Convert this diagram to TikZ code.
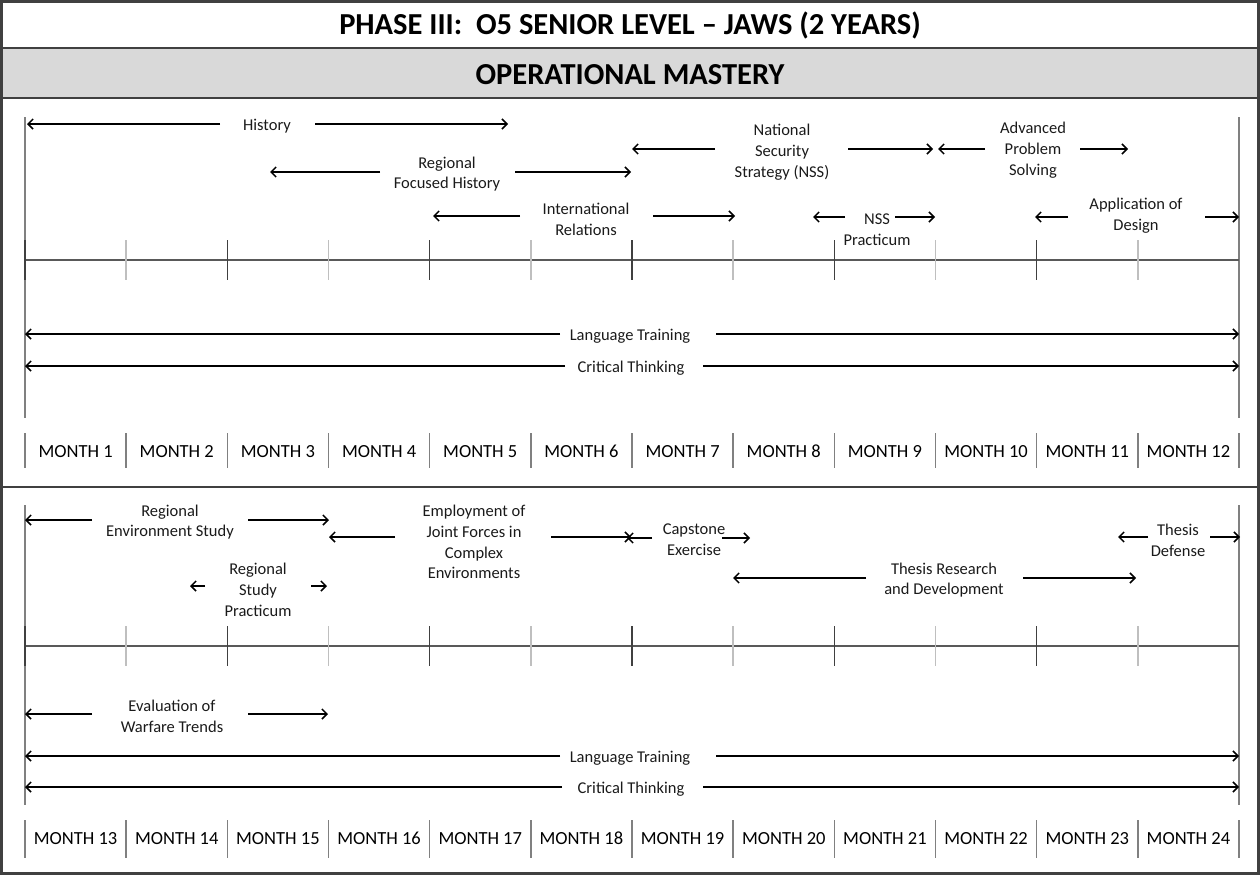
\documentclass[tikz,border=0pt]{standalone}
\usepackage{fontspec}
\setmainfont{Carlito}
\usetikzlibrary{arrows.meta}
\definecolor{frame}{HTML}{404040}
\definecolor{band}{HTML}{D9D9D9}
\definecolor{axis}{HTML}{595959}
\definecolor{tickdark}{HTML}{404040}
\definecolor{ticklight}{HTML}{BFBFBF}
\definecolor{edge}{HTML}{808080}
\definecolor{ink}{HTML}{1A1A1A}
\newcommand\tlact[8]{%
  \node[lbl] (#1) at (#2) {#3};
  \coordinate (#1-la) at (#5,#4);
  \coordinate (#1-lb) at (#6,#4);
  \coordinate (#1-ra) at (#7,#4);
  \coordinate (#1-rb) at (#8,#4);
  \draw[arr] (#1-la) -- (#1-lb);
  \draw[arr] (#1-ra) -- (#1-rb);
}
\begin{document}
\begin{tikzpicture}[x=1pt,y=-1pt,
  lbl/.style={font=\fontsize{16.5}{20.7}\selectfont, text=ink, align=center, inner sep=0pt, yshift=-2pt},
  month/.style={font=\fontsize{18.5}{22}\selectfont, text=black, inner sep=0pt, anchor=base},
  title/.style={font=\fontsize{30.5}{36}\selectfont\bfseries, text=black, inner sep=0pt, anchor=base},
  arr/.style={-{Straight Barb[length=5pt,width=10pt]}, line width=1.5pt, draw=black},
  framel/.style={draw=frame, line width=2.4pt},
  axisl/.style={draw=axis, line width=1.2pt},
  edgel/.style={draw=edge, line width=1.5pt},
  darktick/.style={draw=tickdark, line width=1.4pt},
  lighttick/.style={draw=ticklight, line width=1.4pt},
  sep/.style={draw=edge, line width=1.4pt}
]
\useasboundingbox (0,0) rectangle (1260,875);
% header
\fill[band] (1.5,48) rectangle (1258.5,98);
\draw[framel] (1.5,1.5) rectangle (1258.5,873.5);
\draw[framel] (1.5,48) -- (1258.5,48);
\draw[framel] (1.5,98) -- (1258.5,98);
\draw[framel] (1.5,487) -- (1258.5,487);
\node[title] (t1) at (630,35) {PHASE III:\ \ O5 SENIOR LEVEL -- JAWS (2 YEARS)};
\node[title] (t2) at (630,84) {OPERATIONAL MASTERY};

% ---------- top half ----------
\coordinate (ta-l0) at (25,117); \coordinate (ta-l1) at (25,418);
\coordinate (ta-r0) at (1239,117); \coordinate (ta-r1) at (1239,418);
\draw[edgel] (ta-l0) -- (ta-l1);
\draw[edgel] (ta-r0) -- (ta-r1);
\coordinate (axA-0) at (25,260); \coordinate (axA-1) at (1239,260);
\draw[axisl] (axA-0) -- (axA-1);
\foreach \k in {0,...,11}{
  \pgfmathsetmacro{\xx}{25+\k*101.1667}
  \pgfmathtruncatemacro{\odd}{mod(\k,2)}
  \coordinate (tkA\k-a) at (\xx,240); \coordinate (tkA\k-b) at (\xx,280);
  \ifnum\odd=0 \draw[darktick] (tkA\k-a) -- (tkA\k-b); \else \draw[lighttick] (tkA\k-a) -- (tkA\k-b); \fi
}
\foreach \k in {0,...,12}{
  \pgfmathsetmacro{\xx}{25+\k*101.1667}
  \coordinate (spA\k-a) at (\xx,433); \coordinate (spA\k-b) at (\xx,468);
  \draw[sep] (spA\k-a) -- (spA\k-b);
}
\foreach \m in {1,...,12}{
  \pgfmathsetmacro{\xx}{25+(\m-0.5)*101.1667}
  \node[month] (mA\m) at (\xx,457) {MONTH \m};
}

\tlact{hist}{267,124}{History}{124}{220}{27}{315}{508}
\tlact{rfh}{447,172}{Regional\\Focused History}{172}{380}{270}{515}{631}
\tlact{nss}{782,150}{National\\Security\\Strategy (NSS)}{149}{715}{632}{848}{933}
\tlact{aps}{1033,148}{Advanced\\Problem\\Solving}{149}{985}{938}{1080}{1128}
\tlact{ir}{586,217}{International\\Relations}{216}{520}{433}{653}{735}
\node[lbl] (nssp) at (877,228) {NSS\\Practicum};
\coordinate (nssp-la) at (845,217); \coordinate (nssp-lb) at (813,217);
\coordinate (nssp-ra) at (895,217); \coordinate (nssp-rb) at (935,217);
\draw[arr] (nssp-la) -- (nssp-lb);
\draw[arr] (nssp-ra) -- (nssp-rb);
\tlact{aod}{1136,214}{Application of\\Design}{217}{1068}{1035}{1205}{1239}
\tlact{ltA}{630,334}{Language Training}{334}{560}{25}{716}{1239}
\tlact{ctA}{631,366}{Critical Thinking}{366}{565}{25}{703}{1239}

% ---------- bottom half ----------
\coordinate (tb-l0) at (25,505); \coordinate (tb-l1) at (25,805);
\coordinate (tb-r0) at (1239,505); \coordinate (tb-r1) at (1239,805);
\draw[edgel] (tb-l0) -- (tb-l1);
\draw[edgel] (tb-r0) -- (tb-r1);
\coordinate (axB-0) at (25,646); \coordinate (axB-1) at (1239,646);
\draw[axisl] (axB-0) -- (axB-1);
\foreach \k in {0,...,11}{
  \pgfmathsetmacro{\xx}{25+\k*101.1667}
  \pgfmathtruncatemacro{\odd}{mod(\k,2)}
  \coordinate (tkB\k-a) at (\xx,626); \coordinate (tkB\k-b) at (\xx,666);
  \ifnum\odd=0 \draw[darktick] (tkB\k-a) -- (tkB\k-b); \else \draw[lighttick] (tkB\k-a) -- (tkB\k-b); \fi
}
\foreach \k in {0,...,12}{
  \pgfmathsetmacro{\xx}{25+\k*101.1667}
  \coordinate (spB\k-a) at (\xx,820); \coordinate (spB\k-b) at (\xx,858);
  \draw[sep] (spB\k-a) -- (spB\k-b);
}
\foreach \m in {1,...,12}{
  \pgfmathsetmacro{\xx}{25+(\m-0.5)*101.1667}
  \pgfmathtruncatemacro{\mm}{\m+12}
  \node[month] (mB\m) at (\xx,844) {MONTH \mm};
}

\tlact{res}{170,520}{Regional\\Environment Study}{520}{92}{25}{248}{329}
\tlact{rsp}{258,588}{Regional\\Study\\Practicum}{586}{205}{190}{311}{327}
\tlact{ejf}{474,540}{Employment of\\Joint Forces in\\Complex\\Environments}{537}{395}{329}{551}{631}
\tlact{cap}{694,538}{Capstone\\Exercise}{538}{652}{627}{722}{750}
\tlact{trd}{944,578}{Thesis Research\\and Development}{578}{866}{733}{1023}{1136}
\tlact{thd}{1178,538}{Thesis\\Defense}{537}{1148}{1118}{1210}{1240}
\tlact{ewt}{172,714}{Evaluation of\\Warfare Trends}{714}{92}{25}{248}{328}
\tlact{ltB}{630,756}{Language Training}{756}{560}{25}{716}{1239}
\tlact{ctB}{631,787}{Critical Thinking}{787}{562}{25}{703}{1239}
\end{tikzpicture}
\end{document}
